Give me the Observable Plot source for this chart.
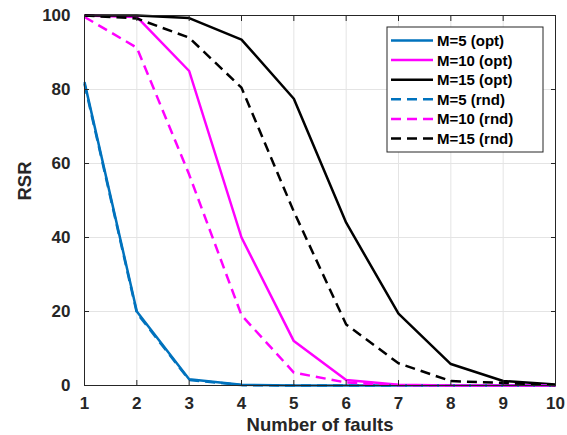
<!DOCTYPE html>
<html>
<head>
<meta charset="utf-8">
<script src="https://cdn.jsdelivr.net/npm/d3@7"></script>
<script src="https://cdn.jsdelivr.net/npm/@observablehq/plot@0.6"></script>
<style>
  html, body { margin: 0; padding: 0; background: #fff; }
  #chart { width: 567px; height: 435px; }
  svg { font-family: "Liberation Sans", Arial, Helvetica, sans-serif; }
</style>
</head>
<body>
<div id="chart"></div>
<script>
const faults = [1, 2, 3, 4, 5, 6, 7, 8, 9, 10];
const m5Opt  = [82, 20, 1.7, 0.2, 0, 0, 0, 0, 0, 0];
const m10Opt = [100, 99.6, 85, 40, 12, 1.5, 0.2, 0, 0, 0];
const m15Opt = [100, 100, 99.3, 93.5, 77.5, 44, 19.4, 5.8, 1.2, 0.3];
const m5Rnd  = [81.5, 19.6, 1.5, 0.1, 0, 0, 0, 0, 0, 0];
const m10Rnd = [99.6, 91.3, 57, 19, 3.5, 0.8, 0.1, 0, 0, 0];
const m15Rnd = [100, 99.2, 94, 80.5, 47, 16.5, 6, 1.2, 0.7, 0.1];
const xTicks = [1, 2, 3, 4, 5, 6, 7, 8, 9, 10];
const yTicks = [0, 20, 40, 60, 80, 100];

const seriesNames = ["M=5 (opt)", "M=10 (opt)", "M=15 (opt)", "M=5 (rnd)", "M=10 (rnd)", "M=15 (rnd)"];
const seriesValues = [m5Opt, m10Opt, m15Opt, m5Rnd, m10Rnd, m15Rnd];
const seriesColors = ["#0072BD", "#FF00FF", "#000000", "#0072BD", "#FF00FF", "#000000"];
const seriesDashed = [false, false, false, true, true, true];

const dash = "10,6";
const axisColor = "#262626";

const lineMarks = seriesNames.map((name, i) => {
  const data = faults.map((f, j) => ({f, v: seriesValues[i][j]}));
  return Plot.line(data, {
    x: "f", y: "v",
    stroke: seriesColors[i],
    strokeWidth: 2.5,
    strokeDasharray: seriesDashed[i] ? dash : null,
    strokeLinejoin: "miter",
    strokeLinecap: "butt"
  });
});

const plot = Plot.plot({
  width: 567,
  height: 435,
  marginLeft: 84,
  marginRight: 12,
  marginTop: 15,
  marginBottom: 50,
  style: {fontFamily: "Liberation Sans, Arial, sans-serif", background: "#fff"},
  x: {domain: [1, 10], label: null},
  y: {domain: [0, 100], label: null},
  marks: [
    Plot.gridX(xTicks, {stroke: "#e4e4e4", strokeOpacity: 1}),
    Plot.gridY(yTicks, {stroke: "#e4e4e4", strokeOpacity: 1}),
    ...lineMarks,
    Plot.frame({stroke: axisColor, strokeWidth: 1}),
    Plot.axisX(xTicks, {anchor: "bottom", tickSize: -5, text: null, label: null, stroke: axisColor}),
    Plot.axisX(xTicks, {anchor: "top", tickSize: -5, text: null, label: null, stroke: axisColor}),
    Plot.axisY(yTicks, {anchor: "left", tickSize: -5, text: null, label: null, stroke: axisColor}),
    Plot.axisY(yTicks, {anchor: "right", tickSize: -5, text: null, label: null, stroke: axisColor}),
    Plot.axisX(xTicks, {anchor: "bottom", tickSize: 0, tickPadding: 11, label: null,
      fontSize: 17, fontWeight: "bold", fill: axisColor, tickFormat: d => String(d)}),
    Plot.axisY(yTicks, {anchor: "left", tickSize: 0, tickPadding: 14, label: null,
      fontSize: 17, fontWeight: "bold", fill: axisColor, tickFormat: d => String(d)}),
    Plot.text(["Number of faults"], {frameAnchor: "bottom", dy: 40, lineAnchor: "middle",
      fontSize: 18.5, fontWeight: "bold", fill: axisColor}),
    Plot.text(["RSR"], {frameAnchor: "left", dx: -59, rotate: -90, lineAnchor: "middle",
      fontSize: 18.5, fontWeight: "bold", fill: axisColor})
  ]
});

document.getElementById("chart").appendChild(plot);

// Legend
const svg = d3.select(plot);
const lg = svg.append("g").attr("class", "legend").attr("text-anchor", "start");
const lx = 387, ly = 27, lw = 156, lh = 125;
lg.append("rect").attr("x", lx).attr("y", ly).attr("width", lw).attr("height", lh)
  .attr("fill", "#fff").attr("stroke", axisColor).attr("stroke-width", 1);
const rowY0 = 40.5, rowStep = 19.6;
seriesNames.forEach((name, i) => {
  const y = rowY0 + i * rowStep;
  lg.append("line").attr("x1", 391).attr("x2", 433).attr("y1", y).attr("y2", y)
    .attr("stroke", seriesColors[i]).attr("stroke-width", 2.5)
    .attr("stroke-dasharray", seriesDashed[i] ? dash : null);
  lg.append("text").attr("x", 437).attr("y", y).attr("dy", "0.36em")
    .attr("text-anchor", "start")
    .attr("font-size", 15).attr("font-weight", "bold").attr("fill", "#000")
    .text(name);
});
</script>
</body>
</html>
